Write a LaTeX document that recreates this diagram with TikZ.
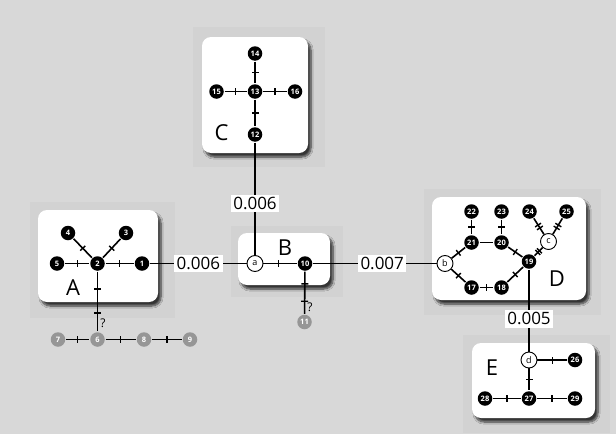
\documentclass[tikz,border=0pt]{standalone}
\usepackage{fontspec}
\setmainfont{Open Sans}
\usepackage{xcolor}
\usepackage{tikz}
\usetikzlibrary{shadows.blur}
\definecolor{BackGray}{RGB}{216,216,216}
\definecolor{PadGray}{RGB}{210,210,210}
\definecolor{GhostGray}{RGB}{150,150,150}

\begin{document}
\begin{tikzpicture}[
  x=1pt,y=-1pt,
  line width=1.6pt,
  pad/.style={fill=PadGray},
  panel/.style={fill=white,rounded corners=9pt,
    blur shadow={shadow xshift=3pt,shadow yshift=-4pt,shadow blur steps=8,shadow opacity=75}},
  leaf/.style={circle,fill=black,text=white,inner sep=0pt,minimum size=14.5pt,
    font=\fontsize{7.5}{7.5}\selectfont\bfseries},
  ghost/.style={leaf,fill=GhostGray},
  anc/.style={circle,draw,fill=white,line width=0.9pt,inner sep=0pt,minimum size=16pt,
    font=\fontsize{9}{9}\selectfont},
  tick/.style={rectangle,sloped,fill=black,inner sep=0pt,minimum width=1.4pt,minimum height=7pt},
  dist/.style={fill=white,inner sep=2.5pt,font=\fontsize{17}{17}\selectfont},
  tag/.style={font=\fontsize{22}{22}\selectfont},
  query/.style={right,inner sep=2pt,font=\fontsize{12}{12}\selectfont}
]
\useasboundingbox[fill=BackGray] (0,0) rectangle (616,434);

% shaded pads and panels
\path[pad] (30,202) rectangle (175,318);
\path[pad] (193,27) rectangle (325,167);
\path[pad] (231,226) rectangle (343,297);
\path[pad] (424,189) rectangle (601,315);
\path[pad] (463,335) rectangle (610,433);
\path[panel] (38,210) rectangle (158,302);
\path[panel] (202,37) rectangle (308,153);
\path[panel] (238,233) rectangle (330,285);
\path[panel] (432,197) rectangle (586,300);
\path[panel] (472,343) rectangle (595,418);

% group A
\node[leaf] (n4) at (68,233) {4};
\node[leaf] (n3) at (126,233) {3};
\node[leaf] (n5) at (57,263.5) {5};
\node[leaf] (n2) at (97.5,263.5) {2};
\node[leaf] (n1) at (142,263.5) {1};
\node[tag] (tA) at (73,288) {A};
\node[ghost] (n7) at (58,339.5) {7};
\node[ghost] (n6) at (97.5,339.5) {6};
\node[ghost] (n8) at (144,339.5) {8};
\node[ghost] (n9) at (190,339.5) {9};

% group C
\node[leaf] (n14) at (255,53.5) {14};
\node[leaf] (n13) at (255,91.5) {13};
\node[leaf] (n15) at (216.5,91.5) {15};
\node[leaf] (n16) at (295,91.5) {16};
\node[leaf] (n12) at (255,134.5) {12};
\node[tag] (tC) at (221.5,133) {C};

% group B
\node[anc] (na) at (255,263.5) {a};
\node[leaf] (n10) at (305,263.5) {10};
\node[tag] (tB) at (285,248) {B};
\node[ghost] (n11) at (304.5,322) {11};

% group D
\node[leaf] (n22) at (471.5,211.5) {22};
\node[leaf] (n23) at (501.5,211.5) {23};
\node[leaf] (n24) at (529.5,211.5) {24};
\node[leaf] (n25) at (566.5,211.5) {25};
\node[leaf] (n21) at (471.5,242.5) {21};
\node[leaf] (n20) at (501.5,242.5) {20};
\node[anc] (nc) at (548.5,241.5) {c};
\node[anc] (nb) at (445,263.5) {b};
\node[leaf] (n19) at (529,261.5) {19};
\node[leaf] (n17) at (471.5,287.5) {17};
\node[leaf] (n18) at (501.5,287.5) {18};
\node[tag] (tD) at (557,279) {D};

% group E
\node[anc] (nd) at (529,360) {d};
\node[leaf] (n26) at (575,360) {26};
\node[leaf] (n27) at (529,398.5) {27};
\node[leaf] (n28) at (485,398.5) {28};
\node[leaf] (n29) at (575,398.5) {29};
\node[tag] (tE) at (492,368) {E};

% edges inside A
\draw (n4) -- node[tick]{} (n2);
\draw (n3) -- node[tick]{} (n2);
\draw (n5) -- node[tick]{} (n2);
\draw (n2) -- node[tick]{} (n1);
\draw (n2) -- node[tick,pos=.29]{} node[tick,pos=.69]{} node[query,pos=.86]{?} (n6);
\draw (n7) -- node[tick]{} (n6);
\draw (n6) -- node[tick]{} (n8);
\draw (n8) -- node[tick]{} (n9);

% edges inside C
\draw (n14) -- node[tick]{} (n13);
\draw (n15) -- node[tick]{} (n13);
\draw (n13) -- node[tick]{} (n16);
\draw (n13) -- node[tick]{} (n12);

% edges inside B
\draw (na) -- node[tick,pos=.45]{} (n10);
\draw (n10) -- node[tick,pos=.29]{} node[tick,pos=.7]{} node[query,pos=.84]{?} (n11);

% edges inside D
\draw (n22) -- node[tick]{} (n21);
\draw (n23) -- node[tick]{} (n20);
\draw (n21) -- (n20);
\draw (nb) -- node[tick]{} (n21);
\draw (nb) -- node[tick]{} (n17);
\draw (n17) -- node[tick]{} (n18);
\draw (n18) -- node[tick]{} (n19);
\draw (n20) -- node[tick]{} (n19);
\draw (n24) -- node[tick,pos=.42]{} node[tick,pos=.6]{} (nc);
\draw (n25) -- node[tick,pos=.42]{} node[tick,pos=.6]{} (nc);
\draw (nc) -- node[tick,pos=.4]{} node[tick,pos=.6]{} (n19);

% edges inside E
\draw (nd) -- node[tick]{} (n26);
\draw (nd) -- node[tick]{} (n27);
\draw (n28) -- node[tick]{} (n27);
\draw (n27) -- node[tick]{} (n29);

% distances between groups
\draw (n12) -- node[dist,pos=.54]{0.006} (na);
\draw (n1) -- node[dist,pos=.5]{0.006} (na);
\draw (n10) -- node[dist,pos=.56]{0.007} (nb);
\draw (n19) -- node[dist,pos=.6]{0.005} (nd);
\end{tikzpicture}
\end{document}
